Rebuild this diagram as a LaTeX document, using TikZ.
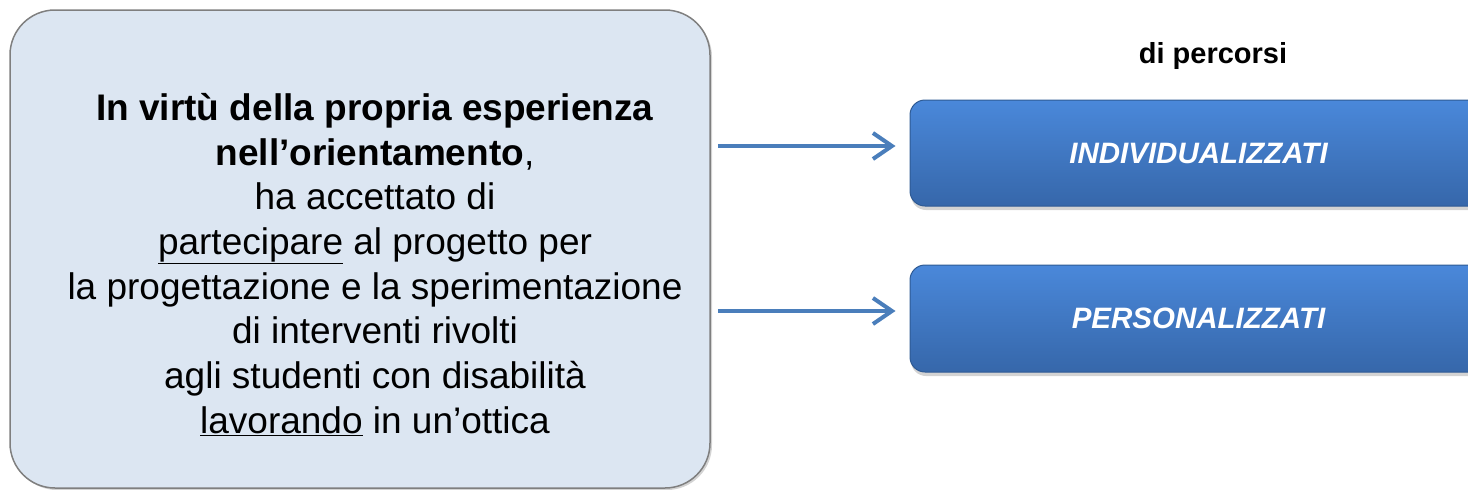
\documentclass[tikz,border=0pt]{standalone}
\usepackage{fontspec}
\setmainfont{Liberation Sans}
\usepackage{xcolor}
\usetikzlibrary{positioning, shadows, arrows.meta}
\definecolor{boxfill}{HTML}{DCE6F2}
\definecolor{boxline}{HTML}{7F7F7F}
\definecolor{pathtop}{HTML}{4A88DA}
\definecolor{pathbottom}{HTML}{3667AA}
\definecolor{pathline}{HTML}{2E5A94}
\definecolor{linkblue}{HTML}{4A7EBB}

\tikzset{
    infobox/.style={draw=boxline, line width=1.5pt, fill=boxfill, rounded corners=45pt,
        minimum width=700pt, minimum height=478pt,
        drop shadow={shadow xshift=2pt, shadow yshift=-2pt, opacity=.35}},
    pathbox/.style={draw=pathline, line width=1pt, top color=pathtop, bottom color=pathbottom,
        rounded corners=15pt, minimum width=577pt, font=\fontsize{29.5}{35}\selectfont\bfseries\itshape,
        text=white, drop shadow={shadow xshift=1pt, shadow yshift=-4pt, opacity=.35}},
    link/.style={draw=linkblue, line width=4pt, -{Straight Barb[length=19pt, width=26pt]},
        shorten <=7pt, shorten >=14pt}
}

\begin{document}
\begin{tikzpicture}[x=1pt, y=-1pt]
        \useasboundingbox (0,0) rectangle (1468,490);
        \clip (0,0) rectangle (1468,490);
        \node[infobox] (Info) at (360, 249) {};
        \node[anchor=north, inner sep=0pt, align=center, font=\fontsize{37}{44.7}\selectfont] (InfoText) at (375, 93)
            {\textbf{In virtù della propria esperienza}\\
             \textbf{nell’orientamento},\\
             ha accettato di\\
             \underline{partecipare} al progetto per\\
             la progettazione e la sperimentazione\\
             di interventi rivolti\\
             agli studenti con disabilità\\
             \underline{lavorando} in un’ottica};
        \node[anchor=base, font=\fontsize{29}{35}\selectfont\bfseries] (Percorsi) at (1213, 63) {di percorsi};
        \node[pathbox, minimum height=106pt] (Ind) at (1198.5, 153) {INDIVIDUALIZZATI};
        \node[pathbox, minimum height=107pt] (Pers) at (1198.5, 318.5) {PERSONALIZZATI};
        \draw[link] (Info.east |- 0,146) -- (Ind.west |- 0,146);
        \draw[link] (Info.east |- 0,311) -- (Pers.west |- 0,311);
    \end{tikzpicture}
\end{document}
